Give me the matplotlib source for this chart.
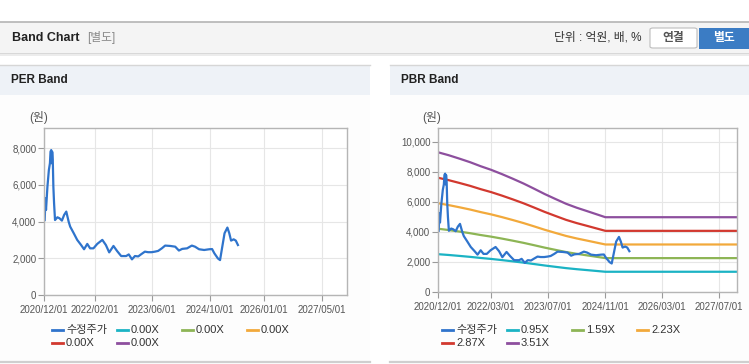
import matplotlib
matplotlib.use('Agg')
import matplotlib.pyplot as plt
from matplotlib.patches import Rectangle, FancyBboxPatch
from matplotlib.lines import Line2D
from matplotlib.ticker import FuncFormatter
import pandas as pd

plt.rcParams['font.family'] = ['Liberation Sans', 'Noto Sans CJK KR', 'DejaVu Sans']

# 수정주가 (adjusted price)
price_dates = ['2020-12-07', '2020-12-13', '2020-12-18', '2020-12-30', '2021-01-11', '2021-01-20',
               '2021-01-25', '2021-01-31', '2021-02-05', '2021-02-08', '2021-02-13', '2021-02-18',
               '2021-02-24', '2021-03-04', '2021-03-24', '2021-04-10', '2021-05-01', '2021-05-20',
               '2021-06-07', '2021-06-27', '2021-07-10', '2021-08-09', '2021-09-07', '2021-10-10',
               '2021-11-04', '2021-12-01', '2021-12-25', '2022-01-22', '2022-02-23', '2022-04-07',
               '2022-05-07', '2022-06-04', '2022-07-10', '2022-08-10', '2022-09-13', '2022-10-25',
               '2022-11-16', '2022-12-13', '2023-01-07', '2023-02-04', '2023-03-01', '2023-04-01',
               '2023-04-28', '2023-05-28', '2023-06-25', '2023-07-22', '2023-08-22', '2023-09-19',
               '2023-11-01', '2023-12-13', '2024-01-13', '2024-02-10', '2024-03-22', '2024-05-01',
               '2024-05-28', '2024-07-01', '2024-08-13', '2024-09-25', '2024-10-19', '2024-11-07',
               '2024-12-07', '2024-12-25', '2025-01-13', '2025-02-01', '2025-02-25', '2025-03-13',
               '2025-03-28', '2025-04-19', '2025-05-07', '2025-05-25']
price_values = [4080, 5260, 4630, 5900, 6800, 7170,
                7800, 7890, 7170, 7800, 7350, 5900,
                4990, 4080, 4230, 4180, 4050, 4360,
                4540, 3990, 3720, 3360, 3000, 2720,
                2490, 2780, 2540, 2540, 2780, 3000,
                2720, 2320, 2670, 2390, 2120, 2120,
                2210, 1940, 2120, 2100, 2220, 2360,
                2330, 2330, 2360, 2400, 2540, 2690,
                2670, 2630, 2420, 2510, 2540, 2690,
                2630, 2490, 2450, 2490, 2500, 2270,
                1990, 1900, 2630, 3360, 3670, 3360,
                2960, 3030, 2960, 2720]

# BPS used for the PBR band lines
bps_dates = ['2020-12-01', '2021-03-01', '2021-06-01', '2021-09-01', '2021-12-01', '2022-03-01',
             '2022-06-01', '2022-09-01', '2022-12-01', '2023-03-01', '2023-06-01', '2023-09-01',
             '2023-12-01', '2024-03-01', '2024-06-01', '2024-09-01', '2024-11-01', '2027-12-01']
bps_values = [2653, 2598, 2533, 2465, 2388, 2319,
              2238, 2151, 2061, 1963, 1860, 1766,
              1675, 1600, 1533, 1465, 1420, 1420]

per_multiples = [0.00, 0.00, 0.00, 0.00, 0.00]
pbr_multiples = [0.95, 1.59, 2.23, 2.87, 3.51]

price_color = '#2f74cc'
band_colors = ['#1bb3c4', '#8db555', '#f2a93b', '#d2392f', '#8d4f9e']

per_ticks = ['2020/12/01', '2022/02/01', '2023/06/01', '2024/10/01', '2026/01/01', '2027/05/01']
pbr_ticks = ['2020/12/01', '2022/03/01', '2023/07/01', '2024/11/01', '2026/03/01', '2027/07/01']

W, H = 749, 364
fig = plt.figure(figsize=(W / 100, H / 100), dpi=100)
fig.patch.set_facecolor('white')


def fx(x):
    return x / W


def fy(y):
    return 1 - y / H


def box(x0, y0, x1, y1, color):
    fig.add_artist(Rectangle((fx(x0), fy(y1)), fx(x1) - fx(x0), fy(y0) - fy(y1),
                             transform=fig.transFigure, facecolor=color, edgecolor='none', zorder=-2))


def hline(x0, x1, y, color, lw):
    fig.add_artist(Line2D([fx(x0), fx(x1)], [fy(y), fy(y)], color=color, lw=lw, zorder=-1))


# top header bar
box(0, 22, W, 53, '#f4f4f4')
hline(0, W, 22, '#b4b4b4', 1.2)
box(0, 53, W, 54, '#d8d8d8')
box(0, 54, W, 56, '#ececec')
fig.text(fx(12), fy(38), 'Band Chart', fontsize=9, fontweight='bold', color='#222222', va='center')
fig.text(fx(87), fy(38), '[별도]', fontsize=8.5, color='#888888', va='center')
fig.text(fx(642), fy(38), '단위 : 억원, 배, %', fontsize=8.5, color='#333333', va='center', ha='right')
fig.add_artist(FancyBboxPatch((fx(650), fy(48)), fx(47), fy(28) - fy(48), boxstyle='round,pad=0,rounding_size=0.004',
                              transform=fig.transFigure, facecolor='white', edgecolor='#bdbdbd', lw=0.8))
fig.text(fx(673), fy(38), '연결', fontsize=8.5, color='#555555', va='center', ha='center', fontweight='bold')
box(699, 28, 749, 49, '#3b7cc4')
fig.text(fx(724), fy(38), '별도', fontsize=8.5, color='white', va='center', ha='center', fontweight='bold')

# panels
for px0, px1, title in [(0, 370, 'PER Band'), (390, 749, 'PBR Band')]:
    box(px0, 65, px1, 95, '#eef2f7')
    box(px0, 95, px1, 361, '#fdfdfd')
    hline(px0, px1, 65, '#d6d6d6', 1)
    hline(px0, px1, 361.5, '#cfcfcf', 1.6)
    fig.text(fx(px0 + 11), fy(80), title, fontsize=8.5, fontweight='bold', color='#222222', va='center')

xmin, xmax = pd.Timestamp('2020-12-01'), pd.Timestamp('2027-12-01')
p_dates = pd.to_datetime(price_dates)
b_dates = pd.to_datetime(bps_dates)


def style_axis(ax, ymax, yticks, xticks, unit_x):
    ax.set_facecolor('white')
    ax.set_xlim(xmin, xmax)
    ax.set_ylim(0, ymax)
    ax.set_yticks(yticks)
    ax.yaxis.set_major_formatter(FuncFormatter(lambda v, p: f'{v:,.0f}'))
    ax.set_xticks(pd.to_datetime(xticks))
    ax.set_xticklabels(xticks)
    ax.grid(True, color='#e6e6e6', lw=0.8)
    ax.set_axisbelow(True)
    for s in ax.spines.values():
        s.set_color('#b5b5b5')
        s.set_linewidth(1)
    ax.tick_params(axis='both', colors='#9a9a9a', labelcolor='#555555', labelsize=7, length=4, width=0.8)
    ax.tick_params(axis='y', pad=1.5)
    ax.tick_params(axis='x', pad=3)
    fig.text(fx(unit_x), fy(117), '(원)', fontsize=8.5, color='#555555', ha='center', va='center')


def draw_legend(x0, labels, colors):
    for i, (lab, col) in enumerate(zip(labels, colors)):
        x = x0 + (i % 4) * 65
        y = 330 + (i // 4) * 13
        fig.add_artist(Line2D([fx(x), fx(x + 11)], [fy(y), fy(y)], color=col, lw=2))
        fig.text(fx(x + 14), fy(y), lab, fontsize=8, color='#333333', va='center')


# PER band chart
ax1 = fig.add_axes([fx(44), fy(295), fx(303), fy(128) - fy(295)])
ax1.plot(p_dates, price_values, color=price_color, lw=1.6)
style_axis(ax1, 9090, [0, 2000, 4000, 6000, 8000], per_ticks, 39)
draw_legend(52, ['수정주가'] + [f'{m:.2f}X' for m in per_multiples], [price_color] + band_colors)

# PBR band chart
ax2 = fig.add_axes([fx(438), fy(292), fx(299), fy(128) - fy(292)])
for m, col in zip(pbr_multiples, band_colors):
    ax2.plot(b_dates, [b * m for b in bps_values], color=col, lw=1.6)
ax2.plot(p_dates, price_values, color=price_color, lw=1.6)
style_axis(ax2, 10930, [0, 2000, 4000, 6000, 8000, 10000], pbr_ticks, 432)
draw_legend(442, ['수정주가'] + [f'{m:.2f}X' for m in pbr_multiples], [price_color] + band_colors)

fig.savefig('out.png', dpi=100)
